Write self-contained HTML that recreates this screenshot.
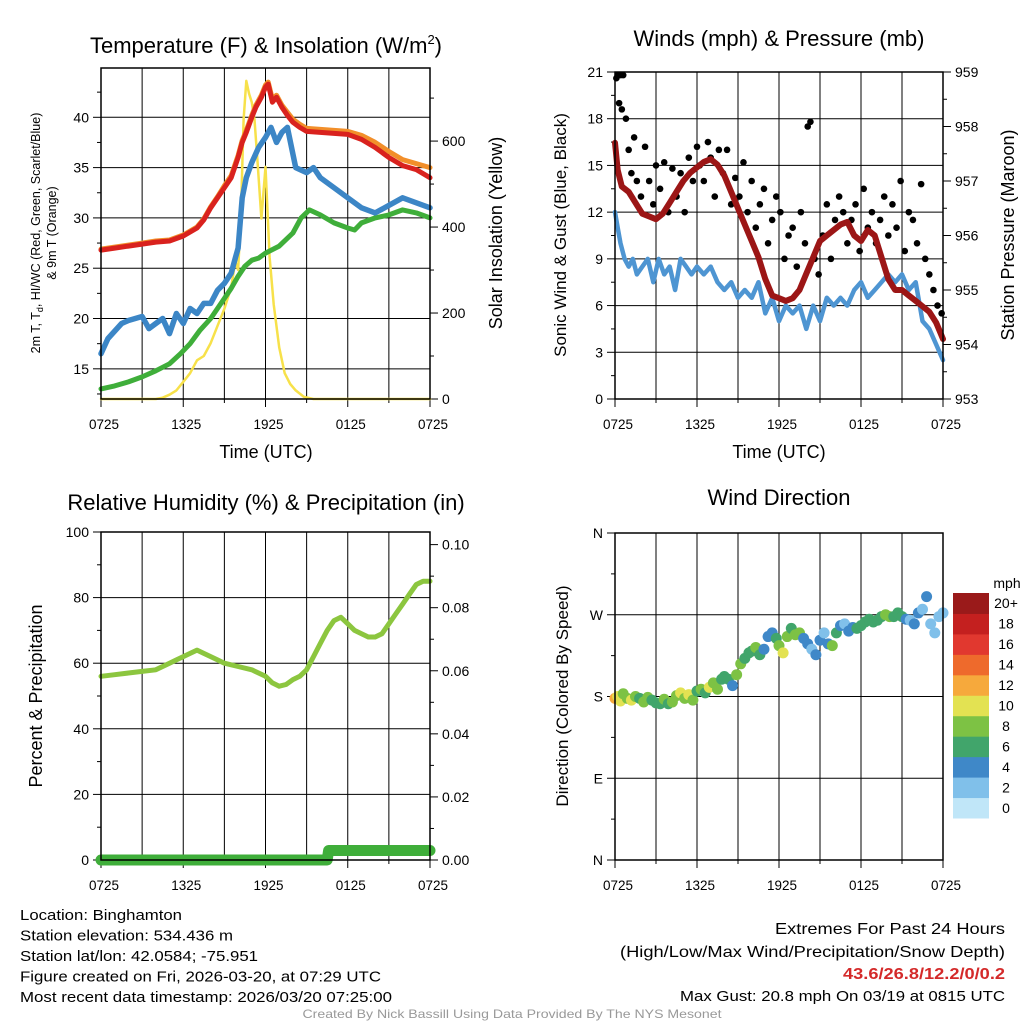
<!DOCTYPE html>
<html><head><meta charset="utf-8"><style>
html,body{margin:0;padding:0;background:#fff}
svg{display:block;font-family:"Liberation Sans",sans-serif}
</style></head><body>
<svg id="c" width="1024" height="1024" viewBox="0 0 1024 1024"></svg>
<script>
// ---- Panel 1 data (hours since 0725 UTC) ----
const tT=[0,1,2,3,4,5,6,7,7.5,8,8.5,9,9.5,10,10.3,10.6,11,11.3,11.7,12,12.2,12.5,12.8,13.2,13.6,14,14.5,15,16,17,18,19,20,21,22,23,24];
const tRed=[26.8,27,27.2,27.4,27.6,27.7,28.2,29,29.8,31,32,33,34,36,37.5,38.5,40,41,42,43,43.3,41.5,42,41,40.2,39.5,39,38.6,38.5,38.4,38.3,37.8,37,36,35.2,34.8,34];
const tOrange=[26.9,27.1,27.3,27.5,27.7,27.8,28.3,29.1,29.9,31.1,32.1,33.2,34.2,36.2,37.7,38.7,40.2,41.2,42.2,43.2,43.5,41.8,42.2,41.2,40.5,39.8,39.3,38.9,38.8,38.7,38.6,38.2,37.5,36.6,35.8,35.4,35];
const tBlue=[16.5,18,19.5,19.8,20.2,19,19.5,20,18.5,20.5,19.5,21,20.5,21.5,21.5,22.8,23.5,24.5,26,27,32,34,35.5,37,38,39,37.5,38.5,39,35,34.5,35,34,33,32,31,30.5,32,31];
const tBlueT=[0,0.5,1.5,2,3,3.5,4,4.5,5,5.5,6,6.5,7,7.5,8,8.5,9,9.5,9.8,10,10.3,10.6,11,11.5,12,12.4,12.8,13.2,13.6,14.2,15,15.5,16,17,18,19,20,22,24];
const tGreen=[13,13.3,13.7,14.2,14.8,15.5,16.5,17.5,18.8,20,21,22,23,24.2,25.2,25.8,26,26.5,27.2,28.5,30,30.8,30.3,29.5,29,28.8,29.5,30,30.3,30.8,30.5,30];
const tGreenT=[0,1,2,3,4,5,5.8,6.5,7.2,8,8.5,9,9.5,10,10.5,11,11.5,12,13,14,14.6,15.2,16,17,18,18.5,19,20,21,22,23,24];
const solT=[0,4,4.5,5,5.5,6,6.5,7,7.5,8,8.5,9,9.5,9.8,10,10.2,10.4,10.6,10.8,11,11.2,11.4,11.7,12,12.3,12.6,13,13.4,13.8,14.2,14.8,15.5,24];
const solV=[0,0,3,10,20,40,60,90,100,130,170,210,260,320,300,420,650,740,710,690,650,560,420,540,330,220,120,60,35,20,5,0,0];
// ---- Panel 2 data ----
const windT=[0,0.2,0.4,0.7,1,1.3,1.6,2,2.4,2.8,3.2,3.6,4,4.4,4.8,5.2,5.6,6,6.5,7,7.5,8,8.5,9,9.5,10,10.5,11,11.5,12,12.5,13,13.5,14,14.5,15,15.5,16,16.5,17,17.5,18,18.5,19,19.5,20,20.5,21,21.5,22,22.5,23,23.5,24];
const windV=[12,11,10,9,8.5,9,8,8.5,9,7.5,9,8,8.5,7,9,8.5,8,8.5,8,8.5,7.5,7,7.5,6.5,7,6.5,7.5,5.5,6.5,5,6,5.5,6,4.5,6,5,6.5,6,6.5,6,7,7.5,6.5,7,7.5,8,7.5,8,7,7.5,5,4.5,3.5,2.5];
const presT=[0,0.2,0.5,1,1.5,2,2.5,3,3.5,4,4.5,5,5.5,6,6.5,7,7.5,8,8.5,9,9.5,10,10.5,11,11.5,12,12.5,13,13.5,14,14.5,15,15.5,16,16.5,17,17.5,18,18.5,19,19.5,20,20.5,21,21.5,22,22.5,23,23.5,24];
const presV=[957.7,957.2,956.9,956.8,956.6,956.4,956.35,956.3,956.4,956.6,956.8,957,957.15,957.25,957.35,957.4,957.3,957.1,956.8,956.5,956.2,955.9,955.6,955.2,954.9,954.85,954.8,954.85,955,955.3,955.6,955.9,956,956.1,956.2,956.25,956,955.9,956.1,956,955.6,955.2,955,955,954.9,954.8,954.7,954.6,954.4,954.1];
const gustT=[0.1,0.2,0.3,0.4,0.5,0.6,0.8,1,1.2,1.4,1.6,1.9,2.2,2.5,2.8,3,3.3,3.6,3.9,4.2,4.5,4.8,5.1,5.4,5.7,6,6.2,6.5,6.8,7,7.3,7.6,7.9,8.2,8.5,8.8,9.1,9.4,9.7,10,10.3,10.6,10.9,11.2,11.5,11.8,12.1,12.4,12.7,13,13.3,13.6,13.9,14.1,14.3,14.6,14.9,15.2,15.5,15.8,16.1,16.4,16.7,17,17.3,17.6,17.9,18.2,18.5,18.8,19.1,19.4,19.7,20,20.3,20.6,20.9,21.2,21.5,21.8,22.1,22.4,22.7,23,23.3,23.6,23.9];
const gustV=[20.6,20.8,19,20.8,18.6,20.8,18,16,14.5,16.8,14,13,16.2,14,12.5,15,13.5,15.2,12,14.8,13,14.5,12,15.5,14,16.2,15,14,16.5,15.5,13,16,14.5,16,12.5,14.2,13,15.2,12,14,11,12.5,13.5,10,11.5,13,12,9,10.5,11,8.5,12,10,17.5,17.8,9,8,10.5,12.5,9,11.5,13,12,10,11.5,12.5,9.5,13.5,11,12,10,11.5,13,10.5,12.5,11,14,9.5,12,11.5,10,13.8,9,8,7,6,5.5];
// ---- Panel 3 data ----
const rhT=[0,1,2,3,4,5,5.5,6,6.5,7,7.5,8,8.5,9,10,11,12,12.5,13,13.5,14,14.5,15,15.5,16,16.5,17,17.5,18,18.5,19,19.5,20,20.5,21,21.5,22,22.5,23,23.5,24];
const rhV=[56,56.5,57,57.5,58,60,61,62,63,64,63,62,61,60,59,58,56,54,53,53.5,55,56,58,62,66,70,73,74,72,70,69,68,68,69,72,75,78,81,84,85,85];
const prT=[0,16.5,16.6,24];
const prV=[0,0,0.003,0.003];
// ---- Panel 4 data ----
const dirT=[0,0.2,0.4,0.6,0.9,1.2,1.5,1.8,2.1,2.4,2.7,3,3.3,3.6,3.9,4.2,4.5,4.8,5.1,5.4,5.7,6,6.3,6.6,6.9,7.2,7.5,7.8,8,8.3,8.6,8.9,9.2,9.5,9.8,10,10.3,10.6,10.9,11.2,11.5,11.8,12,12.3,12.6,12.9,13.2,13.5,13.8,14.1,14.4,14.7,15,15.3,15.6,15.9,16.2,16.5,16.8,17.1,17.4,17.7,18,18.3,18.6,18.9,19.2,19.5,19.8,20.1,20.4,20.7,21,21.3,21.6,21.9,22.2,22.5,22.8,23.1,23.4,23.7,24];
const dirV=[178,180,175,183,178,176,180,178,174,179,176,173,172,177,172,174,181,184,178,182,176,186,188,184,190,195,188,199,202,199,192,204,216,222,228,230,234,226,232,246,250,244,236,228,246,255,248,250,244,238,232,226,242,250,238,236,250,258,260,252,256,255,258,262,265,262,264,268,270,268,268,272,268,265,264,260,272,276,290,260,250,268,272];
const dirS=[12,11,10,8,9,10,8,6,8,9,7,6,6,8,7,8,9,10,8,10,8,6,8,7,10,9,8,6,7,6,5,8,9,7,6,6,8,6,5,4,4,6,8,10,8,6,9,8,4,4,3,4,4,3,4,8,6,4,3,4,4,6,6,6,6,6,6,7,8,8,6,6,6,4,3,4,4,3,4,3,3,2,2];
const spdColors=["#c0e6f8","#80c0ea","#3f88c8","#41a56b","#7dc244","#e3e252","#f6a93c","#ee6a2c","#e1382f","#c4201f","#9a1a1a"];
const spdLabels=["0","2","4","6","8","10","12","14","16","18","20+"];
const xTickLabels=["0725","1325","1925","0125","0725"];

const NS="http://www.w3.org/2000/svg";
const svg=document.getElementById('c');
function mk(tag,attrs,parent){const e=document.createElementNS(NS,tag);for(const k in attrs)e.setAttribute(k,attrs[k]);(parent||svg).appendChild(e);return e;}
function txt(s,x,y,size,opts,name){opts=opts||{};const a={x:x,y:y,'font-size':size,fill:opts.fill||'#000','text-anchor':opts.anchor||'middle'};if(opts.rot)a.transform='rotate('+opts.rot+' '+x+' '+y+')';if(opts.len){a.textLength=opts.len;a.lengthAdjust='spacingAndGlyphs';}if(opts.weight)a['font-weight']=opts.weight;const e=mk('text',a);e.textContent=s;


return e;}
function scale(d0,d1,r0,r1){return v=>r0+(v-d0)/(d1-d0)*(r1-r0);}

function panel(name,x0,x1,y0,y1){
  const g=mk('g',{});
  
  
  const sx=scale(0,24,x0,x1);
  for(let i=1;i<8;i++){const x=sx(i*3);const l=mk('line',{x1:x,x2:x,y1:y0,y2:y1,stroke:'#000','stroke-width':1},g);
    
    }
  for(let i=0;i<=8;i++){const x=sx(i*3);mk('line',{x1:x,x2:x,y1:y1,y2:y1+(i%2?4:8),stroke:'#000'},g);}
  xTickLabels.forEach((s,i)=>txt(s,sx(i*6)+3,y1+30,14,{len:30},'x-tick-label'));
  return {g,sx};
}
function yTicks(g,x0,x1,sy,vals,labels,side,grid,minor){
  vals.forEach((v,i)=>{const y=sy(v);
    if(grid){const l=mk('line',{x1:x0,x2:x1,y1:y,y2:y,stroke:'#000','stroke-width':1},g);
      
      }
    const xa=side==='L'?x0:x1;mk('line',{x1:xa,x2:xa+(side==='L'?-8:8),y1:y,y2:y,stroke:'#000'},g);
    txt(labels[i],side==='L'?xa-12:xa+12,y+5,14,{anchor:side==='L'?'end':'start'},side==='L'?'left-tick-label':'right-tick-label');});
  (minor||[]).forEach(v=>{const y=sy(v);const xa=side==='L'?x0:x1;mk('line',{x1:xa,x2:xa+(side==='L'?-4:4),y1:y,y2:y,stroke:'#000'},g);});
}
function line(g,sx,sy,T,V,color,w,name){const d=T.map((t,i)=>(i?'L':'M')+sx(t).toFixed(1)+','+sy(V[i]).toFixed(1)).join('');const p=mk('path',{d:d,fill:'none',stroke:color,'stroke-width':w,'stroke-linejoin':'round','stroke-linecap':'round'},g);

return p;}
function box(g,x0,x1,y0,y1){mk('rect',{x:x0,y:y0,width:x1-x0,height:y1-y0,fill:'none',stroke:'#000','stroke-width':1.5},g);}

// Panel 1
(function(){const X0=101,X1=430,Y0=68,Y1=399;const {g,sx}=panel('temperature-panel',X0,X1,Y0,Y1);
 const sy=scale(12,44.9,Y1,Y0);const sy2=scale(0,770,Y1,Y0);
 const tv=[15,20,25,30,35,40];yTicks(g,X0,X1,sy,tv,tv.map(String),'L',true,[12.5,17.5,22.5,27.5,32.5,37.5,42.5]);
 yTicks(g,X0,X1,sy2,[0,200,400,600],['0','200','400','600'],'R',false,[100,300,500,700]);
 line(g,sx,sy2,solT,solV,'#f7e14a',2.5,'solar-insolation-line');
 line(g,sx,sy,tGreenT,tGreen,'#3fae3a',5,'dewpoint-line');
 line(g,sx,sy,tBlueT,tBlue,'#3c86c6',5.5,'wind-chill-line');
 line(g,sx,sy,tT,tOrange,'#f28f2a',5,'9m-temperature-line');
 line(g,sx,sy,tT,tRed,'#d9221e',5,'2m-temperature-line');
 box(g,X0,X1,Y0,Y1);
 const t=txt('Temperature (F) & Insolation (W/m',266,53,22,{},'panel-title');const s=mk('tspan',{'font-size':13,dy:-9},t);s.textContent='2';const s2=mk('tspan',{dy:9},t);s2.textContent=')';
 const a=mk('text',{x:40,y:233,'font-size':12.5,'text-anchor':'middle',transform:'rotate(-90 40 233)'});
 a.innerHTML='2m T, T<tspan font-size="9" dy="3">d</tspan><tspan dy="-3">, HI/WC (Red, Green, Scarlet/Blue)</tspan>';
 txt('& 9m T (Orange)',56,233,12.5,{rot:-90},'left-axis-title-line2');
 txt('Solar Insolation (Yellow)',502,233,18,{rot:-90},'right-axis-title');
 txt('Time (UTC)',266,458,18,{},'x-axis-title');
})();
// Panel 2
(function(){const X0=615,X1=943,Y0=72,Y1=399;const {g,sx}=panel('winds-panel',X0,X1,Y0,Y1);
 const sy=scale(0,21,Y1,Y0);const sy2=scale(953,959,Y1,Y0);
 const tv=[0,3,6,9,12,15,18,21];yTicks(g,X0,X1,sy,tv,tv.map(String),'L',true,[1.5,4.5,7.5,10.5,13.5,16.5,19.5]);
 const pv=[953,954,955,956,957,958,959];yTicks(g,X0,X1,sy2,pv,pv.map(String),'R',false,[953.5,954.5,955.5,956.5,957.5,958.5]);
 line(g,sx,sy,windT,windV,'#4e95d2',4.5,'sonic-wind-line');
 gustT.forEach((t,i)=>{const c=mk('circle',{cx:sx(t),cy:sy(gustV[i]),r:3.3,fill:'#000'},g);
   
   });
 line(g,sx,sy2,presT,presV,'#9c1616',6,'pressure-line');
 box(g,X0,X1,Y0,Y1);
 txt('Winds (mph) & Pressure (mb)',779,46,22,{},'panel-title');
 txt('Sonic Wind & Gust (Blue, Black)',566,235,17,{rot:-90},'left-axis-title');
 txt('Station Pressure (Maroon)',1014,235,18,{rot:-90},'right-axis-title');
 txt('Time (UTC)',779,458,18,{},'x-axis-title');
})();
// Panel 3
(function(){const X0=101,X1=430,Y0=532,Y1=860;const {g,sx}=panel('humidity-panel',X0,X1,Y0,Y1);
 const sy=scale(0,100,Y1,Y0);const sy2=scale(0,0.104,Y1,Y0);
 const tv=[0,20,40,60,80,100];yTicks(g,X0,X1,sy,tv,tv.map(String),'L',true,[10,30,50,70,90]);
 yTicks(g,X0,X1,sy2,[0,0.02,0.04,0.06,0.08,0.1],['0.00','0.02','0.04','0.06','0.08','0.10'],'R',false,[0.01,0.03,0.05,0.07,0.09]);
 line(g,sx,sy,rhT,rhV,'#8cc63f',5,'relative-humidity-line');
 line(g,sx,sy2,prT,prV,'#3fae3a',11,'precipitation-line');
 box(g,X0,X1,Y0,Y1);
 txt('Relative Humidity (%) & Precipitation (in)',266,510,22,{},'panel-title');
 txt('Percent & Precipitation',42,696,18,{rot:-90},'left-axis-title');
})();
// Panel 4
(function(){const X0=615,X1=943,Y0=533,Y1=860;const {g,sx}=panel('wind-direction-panel',X0,X1,Y0,Y1);
 const sy=scale(0,360,Y1,Y0);
 yTicks(g,X0,X1,sy,[0,90,180,270,360],['N','E','S','W','N'],'L',true,[45,135,225,315]);
 dirT.forEach((t,i)=>{const b=Math.min(10,Math.floor(dirS[i]/2));const c=mk('circle',{cx:sx(t),cy:sy(dirV[i]),r:5.5,fill:spdColors[b]},g);
   
   });
 box(g,X0,X1,Y0,Y1);
 txt('Wind Direction',779,505,22,{},'panel-title');
 txt('Direction (Colored By Speed)',568,696,17,{rot:-90},'left-axis-title');
 const cb=mk('g',{});
 const bh=225/11;
 spdColors.forEach((c,i)=>{const y=818-(i+1)*bh;const r=mk('rect',{x:953,y:y,width:36,height:bh+0.5,fill:c},cb);
   
   
   txt(spdLabels[i],1006,y+bh/2+5,14,{},'colorbar-label');});
 txt('mph',1007,588,14,{},'colorbar-title');
})();
// Footer
const leftInfo=[['Location: Binghamton',162],['Station elevation: 534.436 m',213],['Station lat/lon: 42.0584; -75.951',238],['Figure created on Fri, 2026-03-20, at 07:29 UTC',361],['Most recent data timestamp: 2026/03/20 07:25:00',372]];
leftInfo.forEach((l,i)=>txt(l[0],20,920+i*20.5,15,{anchor:'start',len:l[1]},'station-info-line'));
txt('Extremes For Past 24 Hours',1005,934,16,{anchor:'end',len:230},'extremes-title');
txt('(High/Low/Max Wind/Precipitation/Snow Depth)',1005,957,16,{anchor:'end',len:385},'extremes-legend');
txt('43.6/26.8/12.2/0/0.2',1005,979,16,{anchor:'end',len:162,fill:'#d42a2a',weight:'bold'},'extremes-values');
txt('Max Gust: 20.8 mph On 03/19 at 0815 UTC',1005,1001,15,{anchor:'end',len:325},'max-gust-text');
txt('Created By Nick Bassill Using Data Provided By The NYS Mesonet',512,1018,12,{len:419,fill:'#999'},'credit-text');
</script>
</body></html>
